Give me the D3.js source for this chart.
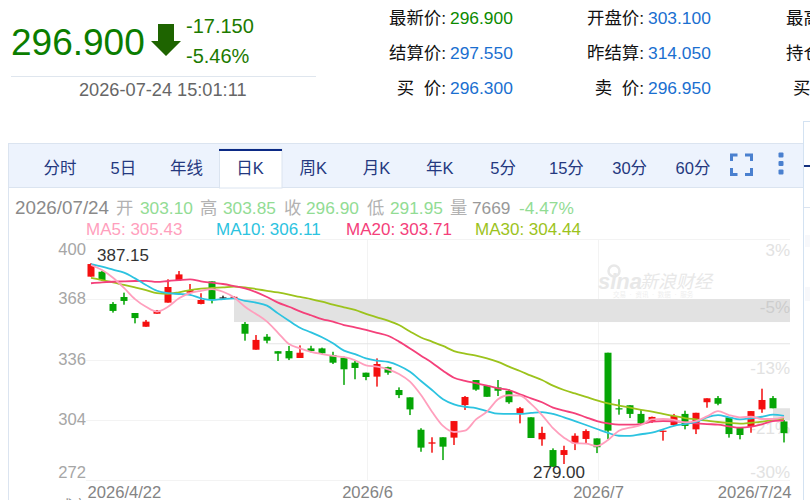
<!DOCTYPE html>
<html>
<head>
<meta charset="utf-8">
<style>
html,body{margin:0;padding:0;background:#fff;overflow:hidden}
svg{display:block;font-family:"Liberation Sans","Noto Sans CJK SC",sans-serif}
text{white-space:pre}
</style>
<script src="https://cdn.jsdelivr.net/npm/d3@7/dist/d3.min.js"></script>
</head>
<body>
<svg id="page" width="810" height="500"></svg>
<script>
// Daily session labels
const dates = ["4/22","4/23","4/24","4/27","4/28","4/29","4/30","5/6","5/7","5/8","5/11","5/12","5/13","5/14","5/15","5/18","5/19","5/20","5/21","5/22","5/25","5/26","5/27","5/28","5/29","6/1","6/2","6/3","6/4","6/5","6/8","6/9","6/10","6/11","6/12","6/15","6/16","6/17","6/18","6/22","6/23","6/24","6/25","6/26","6/29","6/30","7/1","7/2","7/3","7/6","7/7","7/8","7/9","7/10","7/13","7/14","7/15","7/16","7/17","7/20","7/21","7/22","7/23","7/24"];

// Daily prices
const open = [380.0,382.6,365.5,369.2,360.7,353.4,360.3,366.2,378.2,371.5,365.5,377.5,369.0,368.7,354.9,341.2,348.1,340.4,340.5,336.8,341.9,341.9,338.4,337.0,334.3,329.0,326.9,331.9,319.8,315.9,298.7,291.3,294.7,294.5,311.8,325.1,322.1,321.2,319.4,307.6,305.3,293.6,287.9,285.3,291.5,293.8,294.1,339.6,310.1,311.7,307.1,303.0,297.7,301.2,307.1,298.9,313.3,315.5,305.3,299.6,300.3,309.5,315.5,303.10];
const close = [386.7,378.2,361.8,367.1,358.0,356.1,361.9,374.5,381.2,372.9,367.6,367.6,369.0,369.3,349.7,346.4,346.0,339.1,336.6,339.6,340.5,339.3,334.3,330.8,331.5,326.7,333.6,329.0,317.1,309.5,289.2,292.0,289.7,303.3,316.1,320.0,316.2,319.4,313.3,310.1,294.3,297.0,279.0,287.9,295.5,298.0,289.4,298.2,309.5,307.1,302.1,305.5,298.2,306.0,300.7,307.7,315.4,312.5,296.4,295.9,308.6,314.5,310.1,296.90];
const high = [387.15,383.0,366.5,371.5,360.7,357.0,362.3,378.6,383.0,376.1,371.2,377.5,369.9,369.7,355.9,349.0,349.5,340.4,343.2,343.5,343.3,342.3,340.1,337.5,335.2,329.0,336.6,332.2,321.2,315.9,299.5,294.7,294.7,303.3,316.6,325.1,322.1,325.1,320.2,310.8,305.3,300.3,288.8,290.2,296.8,298.9,294.1,339.6,314.9,311.7,309.2,305.7,298.2,307.1,308.8,307.7,315.4,316.6,305.3,299.6,308.6,320.5,316.6,303.85];
const low = [380.0,377.8,360.9,365.1,355.2,353.4,360.3,366.2,377.8,371.2,365.3,365.8,368.3,368.1,346.0,341.2,344.6,335.2,335.7,336.8,339.8,338.8,333.6,322.5,325.5,325.0,321.6,327.9,315.5,306.5,287.0,286.5,282.6,290.6,309.2,319.4,316.2,316.6,312.5,302.1,294.3,290.2,279.0,280.5,287.9,291.5,286.3,293.8,306.7,304.9,301.7,302.3,292.9,300.7,298.9,296.4,310.4,311.7,294.5,293.6,297.1,307.7,310.1,291.95];

// Moving averages
const ma5 = [386.2,383.5,379.4,374.0,368.1,364.0,361.4,364.0,368.5,371.2,372.5,373.4,372.0,369.0,364.0,360.2,356.1,350.2,344.2,341.9,340.1,338.9,337.9,337.2,335.6,332.9,332.2,330.8,328.3,324.2,317.1,308.3,300.7,297.5,298.2,304.2,308.3,314.9,317.0,316.8,312.4,306.5,299.5,294.5,291.5,291.3,290.1,293.2,298.2,299.8,301.2,304.2,304.4,303.9,302.6,303.3,305.8,308.6,306.5,305.3,305.6,304.4,304.4,305.43];
const ma10 = [386.7,385.3,383.7,382.1,379.1,375.6,372.5,371.2,370.8,370.3,368.5,367.6,368.1,368.5,367.1,366.2,364.6,360.5,356.6,352.9,350.4,347.8,344.6,340.7,338.9,336.6,335.4,334.7,332.7,329.5,324.6,319.8,314.9,312.2,310.9,310.2,308.6,307.2,307.1,307.1,307.6,308.1,307.1,305.3,303.3,301.2,299.1,297.0,295.5,295.4,296.3,297.1,298.9,300.8,301.7,302.8,305.3,306.5,305.3,304.2,304.8,305.6,306.7,306.11];
const ma20 = [376.5,377.0,377.3,377.5,377.7,377.8,377.2,377.7,378.2,378.6,377.5,376.8,376.1,375.0,373.8,371.8,369.2,366.2,364.0,361.6,359.5,357.5,356.1,354.3,353.1,351.7,350.2,348.6,345.5,341.9,338.0,334.3,330.0,326.3,324.7,323.4,322.1,320.7,319.8,317.5,315.4,313.3,310.4,308.8,307.4,305.3,303.3,302.1,301.4,301.4,301.7,303.0,303.3,303.2,302.6,302.1,301.7,301.4,300.5,299.8,300.3,301.6,303.3,303.71];
const ma30 = [379.4,378.2,377.0,375.6,374.3,372.9,371.2,370.9,371.7,372.9,373.6,374.0,374.3,374.7,374.3,373.4,372.5,371.6,370.5,369.2,368.1,366.7,365.1,363.7,362.3,360.2,358.4,356.6,354.3,350.9,347.7,345.5,343.2,340.5,339.1,338.0,336.6,334.7,332.2,329.9,327.4,325.1,322.1,319.8,318.0,316.2,314.3,312.7,311.5,310.4,309.3,308.3,307.1,306.0,304.9,304.2,303.5,302.8,302.3,301.9,302.4,303.0,303.9,304.44];
const maNames = ["MA30","MA20","MA10","MA5"];
const maColors = {MA5:"#ff9fbd",MA10:"#2cc3e0",MA20:"#f4407a",MA30:"#9cc31c"};
const maSeries = {MA5:ma5,MA10:ma10,MA20:ma20,MA30:ma30};

// Price gaps still open: first session, upper price, lower price
const gapStart = ["5/14","5/19","7/23"];
const gapTop = [368.1,344.6,310.1];
const gapBottom = [355.9,344.1,303.85];

// Axis ticks and labels
const priceTicks = [400,368,336,304,272];
const percentLabels = ["3%","-5%","-13%","-21%","-30%"];
const dateTicks = ["4/22","6/1","7/1","7/24"];
const dateLabels = ["2026/4/22","2026/6","2026/7","2026/7/24"];

// Quote header
const quoteLabels = [["最新价:","结算价:","买  价:"],["开盘价:","昨结算:","卖  价:"]];
const quoteValues = [["296.900","297.550","296.300"],["303.100","314.050","296.950"]];
const tabNames = ["分时","5日","年线","日K","周K","月K","年K","5分","15分","30分","60分"];

const svg = d3.select("#page");
const t = (g,x,y,s,size,fill,anchor) => g.append("text").attr("x",x).attr("y",y).attr("font-size",size).attr("fill",fill).attr("text-anchor",anchor||"start").text(s);

/* ---------- quote header ---------- */
const head = svg.append("g");
t(head,11,54.5,"296.900",37,"#0b7d00");
head.append("path").attr("d","M158 24H174V41H181L166 56 151 41H158Z").attr("fill","#1e6400");
t(head,186,33,"-17.150",20,"#1c7a00");
t(head,186,63,"-5.46%",20,"#1c7a00");
head.append("rect").attr("x",11).attr("y",76).attr("width",305).attr("height",1).attr("fill","#dfe6ee");
t(head,79,96,"2026-07-24 15:01:11",18.2,"#666");

const rowY = [24,59,94];
[450,648].forEach((xValue,c)=>{
  rowY.forEach((y,r)=>{
    t(head,xValue-4,y,quoteLabels[c][r],17.4,"#111","end");
    t(head,xValue,y,quoteValues[c][r],17.4,(c===0&&r===0)?"#0b8a00":"#1a6fd0");
  });
});
t(head,786,24,"最高",17.4,"#111");
t(head,786,59,"持仓",17.4,"#111");
t(head,793,94,"买",17.4,"#111");

/* ---------- toolbar and frame ---------- */
const frame = svg.append("g");
frame.append("rect").attr("x",8).attr("y",143).attr("width",795).attr("height",44).attr("fill","#edf3fd");
frame.append("rect").attr("x",8).attr("y",143).attr("width",795).attr("height",1).attr("fill","#dbe4f0");
frame.append("rect").attr("x",8).attr("y",187).attr("width",795).attr("height",1).attr("fill","#dbe4f0");
frame.append("rect").attr("x",8).attr("y",143).attr("width",1).attr("height",357).attr("fill","#dbe4f0");
frame.append("rect").attr("x",803).attr("y",121).attr("width",1).attr("height",379).attr("fill","#d3e2f2");
frame.append("rect").attr("x",803).attr("y",121).attr("width",7).attr("height",1).attr("fill","#d3e2f2");
frame.append("rect").attr("x",804).attr("y",207).attr("width",6).attr("height",1).attr("fill","#dbe4f0");
frame.append("rect").attr("x",804).attr("y",165).attr("width",6).attr("height",2).attr("fill","#14307f");
frame.append("rect").attr("x",805).attr("y",235).attr("width",5).attr("height",12).attr("fill","#f7f8fb");
frame.append("rect").attr("x",805).attr("y",287).attr("width",5).attr("height",14).attr("fill","#f7f8fb");
frame.append("rect").attr("x",219.5).attr("y",149).attr("width",62.5).attr("height",39).attr("fill","#fff").attr("stroke","#dbe4f0");
frame.append("rect").attr("x",219).attr("y",149).attr("width",63).attr("height",2).attr("fill","#0c2a85");
const tabX = d3.scalePoint().domain(tabNames).range([60,693]);
tabNames.forEach(n=>t(frame,tabX(n),174,n,16.5,"#24387f","middle"));
const iconBlue = "#4a80cf";
frame.append("path")
  .attr("d","M737.5 155H731.5V161 M745 155H751.5V161 M731.5 168V174.5H737.5 M745 174.5H751.5V168")
  .attr("fill","none").attr("stroke",iconBlue).attr("stroke-width",3);
[155,163.5,172].forEach(y=>frame.append("rect").attr("x",778.5).attr("y",y-2.5).attr("width",5).attr("height",5).attr("rx",1).attr("fill",iconBlue));

/* ---------- readout lines ---------- */
const paleGreen = "#92dc94", paleGray = "#b2b2b2";
const read = svg.append("g");
read.append("text").attr("x",15).attr("y",214).attr("font-size",18.8).attr("fill","#8a8a8a").text("2026/07/24");
[[116,"开",paleGray],[140,"303.10",paleGreen],[200,"高",paleGray],[223,"303.85",paleGreen],[284,"收",paleGray],[306,"296.90",paleGreen],[367,"低",paleGray],[390,"291.95",paleGreen],[450,"量",paleGray],[472,"7669","#999"],[519,"-4.47%",paleGreen]]
  .forEach(d=>t(read,d[0],214,d[1],17.3,d[2]));
[[86,"MA5"],[216,"MA10"],[346,"MA20"],[475,"MA30"]].forEach(d=>{
  const v = maSeries[d[1]];
  t(read,d[0],235,d[1]+": "+v[v.length-1].toFixed(2),17,maColors[d[1]]);
});

/* ---------- chart ---------- */
const x = d3.scalePoint().domain(dates).range([91,784]);
const y = d3.scaleLinear().domain([272,400]).range([480,239]);
const plotLeft = 86, plotRight = 790;
const chart = svg.append("g");

// grid
chart.append("g").selectAll("line").data(priceTicks).join("line")
  .attr("x1",plotLeft).attr("x2",plotRight).attr("y1",d=>Math.round(y(d))+.5).attr("y2",d=>Math.round(y(d))+.5)
  .attr("stroke","#f3f3f3");
chart.append("g").selectAll("line").data(["6/1","7/1"]).join("line")
  .attr("x1",d=>Math.round(x(d))+1.5).attr("x2",d=>Math.round(x(d))+1.5).attr("y1",y(400)).attr("y2",y(272))
  .attr("stroke","#f3f3f3");

// price gaps
chart.append("g").selectAll("rect").data(gapStart).join("rect")
  .attr("x",d=>x(d)).attr("width",d=>plotRight-x(d))
  .attr("y",(d,i)=>y(gapTop[i])).attr("height",(d,i)=>y(gapBottom[i])-y(gapTop[i]))
  .attr("fill","#e2e2e2");

// watermark
const wm = chart.append("g").attr("fill","#e8e8e8");
wm.append("text").attr("x",598).attr("y",289).attr("font-size",22).attr("font-style","italic").attr("font-weight","bold").text("sina");
wm.append("circle").attr("cx",614).attr("cy",271).attr("r",5.5).attr("fill","none").attr("stroke","#e8e8e8").attr("stroke-width",2.5);
wm.append("text").attr("x",640).attr("y",288).attr("font-size",18).attr("font-style","italic").text("新浪财经");
wm.append("text").attr("x",613).attr("y",297).attr("font-size",6.5).attr("fill","#eeeeee").text("交易  ·  资讯  ·  数据  ·  服务");

// axes
const leftAxis = d3.axisLeft(y).tickValues(priceTicks).tickSize(0).tickPadding(0);
const leftG = chart.append("g").attr("transform",`translate(${plotLeft},0)`).call(leftAxis);
leftG.select(".domain").remove();
leftG.selectAll("text").attr("font-size",16.6).attr("font-family","inherit").attr("fill","#a6a6a6")
  .attr("dy",d=>d===400?"0.95em":d===272?"-0.15em":"0.28em");

const rightAxis = d3.axisRight(y).tickValues(priceTicks).tickSize(0).tickPadding(0).tickFormat((d,i)=>percentLabels[i]);
const rightG = chart.append("g").attr("transform",`translate(${plotRight},0)`).call(rightAxis);
rightG.select(".domain").remove();
rightG.selectAll("text").attr("text-anchor","end").attr("font-size",17).attr("font-family","inherit")
  .attr("fill",d=>d===368?"#cdcdcd":"#e2e2e2")
  .attr("dy",d=>d===272?"-0.15em":d===400?"0.95em":"0.8em");

const bottomAxis = d3.axisBottom(x).tickValues(dateTicks).tickSize(0).tickPadding(0).tickFormat((d,i)=>dateLabels[i]);
const bottomG = chart.append("g").attr("transform","translate(0,486)").call(bottomAxis);
bottomG.select(".domain").remove();
bottomG.selectAll("text").attr("font-size",16.6).attr("font-family","inherit").attr("fill","#848484")
  .attr("dy","0.71em").attr("text-anchor",(d,i)=>i===0?"start":i===3?"end":"middle")
  .attr("dx",(d,i)=>i===0?-4:i===3?7:1);
t(chart,59,510,"成交",14,"#888");

// candles
const upColor = "#f40f0f", downColor = "#05a505", flatColor = "#222";
const candleColor = i => close[i]>open[i]?upColor:close[i]<open[i]?downColor:flatColor;
const candles = chart.append("g").selectAll("g").data(dates).join("g");
candles.append("rect").attr("class","wick")
  .attr("x",d=>x(d)-.75).attr("width",1.5)
  .attr("y",(d,i)=>y(high[i])).attr("height",(d,i)=>y(low[i])-y(high[i]))
  .attr("fill",(d,i)=>candleColor(i));
candles.append("rect").attr("class","body")
  .attr("x",d=>x(d)-3.5).attr("width",7)
  .attr("y",(d,i)=>y(Math.max(open[i],close[i])))
  .attr("height",(d,i)=>Math.max(1.2,Math.abs(y(open[i])-y(close[i]))))
  .attr("fill",(d,i)=>candleColor(i));

// moving averages
maNames.forEach(name=>{
  const line = d3.line().x((d,i)=>x(dates[i])).y(d=>y(d)).curve(d3.curveMonotoneX);
  chart.append("path").datum(maSeries[name]).attr("d",line)
    .attr("fill","none").attr("stroke",maColors[name]).attr("stroke-width",1.8);
});

// extreme price labels
const maxI = d3.maxIndex(high), minI = d3.minIndex(low);
t(chart,97,261,high[maxI].toFixed(2),17,"#333");
t(chart,x(dates[minI])+6,478,low[minI].toFixed(2),17,"#333","middle");
</script>
</body>
</html>
